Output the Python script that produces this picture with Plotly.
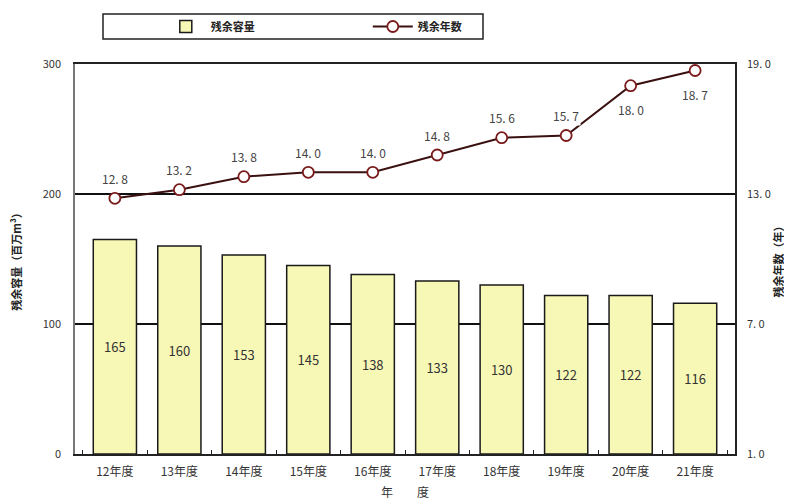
import plotly.graph_objects as go

categories = ["12年度", "13年度", "14年度", "15年度", "16年度", "17年度", "18年度", "19年度", "20年度", "21年度"]
capacity = [165, 160, 153, 145, 138, 133, 130, 122, 122, 116]
years_left = [12.8, 13.2, 13.8, 14.0, 14.0, 14.8, 15.6, 15.7, 18.0, 18.7]
label_pos = ["above", "above", "above", "above", "above", "above", "above", "above", "below", "below"]
right_ticks = [1.0, 7.0, 13.0, 19.0]

FONT = "Noto Sans CJK JP"

def fmt(v):
    return f"{v:.1f}".replace(".", ". ")

fig = go.Figure()
fig.add_trace(go.Bar(
    x=categories, y=capacity, name="残余容量",
    marker=dict(color="#f8f8b6", line=dict(color="#1a1a1a", width=1.5)),
    width=0.67,
    text=[str(v) for v in capacity], textposition="inside", insidetextanchor="middle",
    textfont=dict(family=FONT, size=13, color="#333333"),
    textangle=0,
))
fig.add_trace(go.Scatter(
    x=categories, y=years_left, name="残余年数", yaxis="y2",
    mode="lines+markers",
    line=dict(color="#3a1010", width=2),
    marker=dict(size=11, color="white", line=dict(color="#7a1a1a", width=1.8)),
))

for c, v, p in zip(categories, years_left, label_pos):
    fig.add_annotation(
        x=c, y=v, xref="x", yref="y2", text=fmt(v), showarrow=False,
        yshift=20 if p == "above" else -24,
        bgcolor="white", font=dict(family=FONT, size=12, color="#444444"),
    )

# legend frame
fig.add_shape(type="rect", xref="paper", yref="paper",
              x0=(103 - 75) / 660, x1=(483 - 75) / 660,
              y0=(454 - 39) / 390, y1=(454 - 14) / 390,
              line=dict(color="#222222", width=1.5), fillcolor="white", layer="below")

fig.update_layout(
    width=792, height=496,
    margin=dict(l=67, r=65, t=56, b=50, autoexpand=False),
    paper_bgcolor="white", plot_bgcolor="white",
    font=dict(family=FONT, size=11, color="#222222"),
    showlegend=True,
    legend=dict(orientation="h", x=0.13, xanchor="left", y=(454 - 26.5) / 390, yanchor="middle",
                bgcolor="rgba(0,0,0,0)", borderwidth=0, entrywidth=152, entrywidthmode="pixels",
                itemwidth=40,
                font=dict(family=FONT, size=11, color="#222222", weight="bold")),
    bargap=0.33,
    xaxis=dict(showline=True, linecolor="#222222", linewidth=1.5, mirror=True, automargin=False,
               ticks="inside", tickson="boundaries", ticklen=4, tickcolor="#222222",
               ticklabelstandoff=6,
               tickfont=dict(family=FONT, size=12, color="#333333"),
               title=dict(text="年　　度", font=dict(family=FONT, size=12, color="#333333"), standoff=10)),
    yaxis=dict(range=[0, 300], tickvals=[0, 100, 200, 300], showgrid=True, gridcolor="#111111", gridwidth=1.5,
               showline=True, linecolor="#777777", linewidth=1.5, mirror=True, zeroline=False, automargin=False,
               ticks="", ticklabelstandoff=10, tickfont=dict(family=FONT, size=11, color="#333333"),
               title=dict(text="残余容量（百万m³）", font=dict(family=FONT, size=11, color="#222222", weight="bold"), standoff=22)),
    yaxis2=dict(range=[1, 19], tickvals=right_ticks, ticktext=[fmt(v) for v in right_ticks],
                overlaying="y", side="right", showgrid=False, zeroline=False, automargin=False,
                showline=True, linecolor="#222222", linewidth=1.5, ticks="", ticklabelstandoff=8,
                tickfont=dict(family=FONT, size=11, color="#333333"),
                title=dict(text="残余年数（年）", font=dict(family=FONT, size=11, color="#222222", weight="bold"), standoff=6)),
)

fig.write_html("out.html")
